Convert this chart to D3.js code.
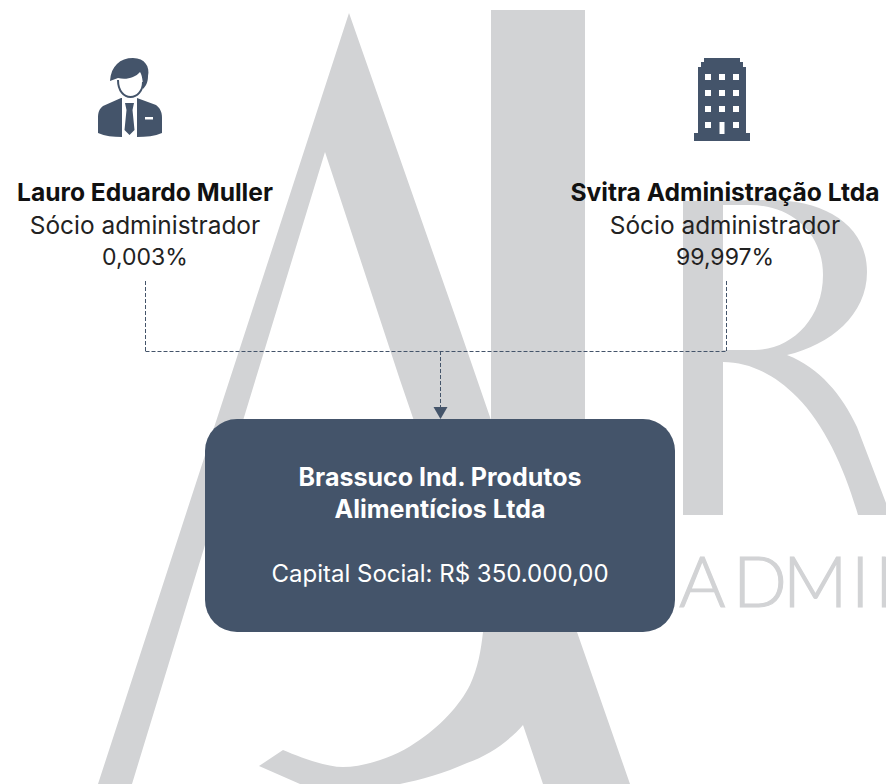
<!DOCTYPE html>
<html><head><meta charset="utf-8">
<style>html,body{margin:0;padding:0;background:#fff}svg{display:block}</style>
<script src="https://cdnjs.cloudflare.com/ajax/libs/d3/7.8.5/d3.min.js"></script>
</head><body><div id="c"></div>
<script>
const names = ["Lauro Eduardo Muller", "Svitra Administração Ltda"];
const roles = ["Sócio administrador", "Sócio administrador"];
const shares = ["0,003%", "99,997%"];
const companyLines = ["Brassuco Ind. Produtos", "Alimentícios Ltda"];
const capitalLine = "Capital Social: R$ 350.000,00";
const watermarkWord = "ADMIN";

const NAVY = "#44546a", GREY = "#d2d3d5", FONT = "Inter, 'Open Sans', sans-serif";
const svg = d3.select("#c").append("svg").attr("width", 886).attr("height", 784);

// watermark
const wm = svg.append("g").attr("fill", GREY);
wm.append("path").attr("fill-rule","evenodd").attr("d",
 "M349,13 L460,330 L491,420 L577,632 L630,784 L543,784 L523,725 " +
 "C510,740 490,755 467,763 C445,773 420,780 400,784 L300,784 L259,766 L283,750 " +
 "C300,757 325,767 343,767 C365,767 395,757 415,743 C440,727 460,705 470,685 C478,668 481,650 483,632 " +
 "L470,570 L413,418 L400,380 L325,152 L132,784 L98,784 Z");
wm.append("rect").attr("x",491).attr("y",10).attr("width",94).attr("height",505);
wm.append("path").attr("fill-rule","evenodd").attr("d",
 "M683,515 L683,201 L770,200 C825,200 867,225 867,272 C867,315 830,345 787,355 " +
 "C820,368 842,395 857,427 L886,503 L886,515 L858,515 C845,470 825,425 797,397 C775,375 750,362 723,362 L723,515 Z " +
 "M723,205 L723,350 L755,350 C790,350 823,320 823,275 C823,232 790,205 750,205 Z");
wm.append("text").attr("y",607).attr("font-family","Lato, sans-serif").attr("font-weight",300)
  .attr("font-size",71).attr("stroke",GREY).attr("stroke-width",1.2)
  .attr("x","679 733 783 851 875").text(watermarkWord);

// connectors
const line = d3.line();
const conn = svg.append("g").attr("fill","none").attr("stroke",NAVY).attr("stroke-width",1).attr("stroke-dasharray","4 2");
[[[145.5,281],[145.5,351.5]],[[726.5,281],[726.5,351.5]],[[145.5,351.5],[726.5,351.5]],[[440.5,351],[440.5,408]]].forEach(p=>conn.append("path").attr("d",line(p)));
svg.append("path").attr("fill",NAVY).attr("d","M433.5,407 L447.5,407 L440.5,419 Z");

// box
svg.append("rect").attr("x",205).attr("y",419).attr("width",470).attr("height",213).attr("rx",32).attr("fill",NAVY);
svg.append("g").selectAll("text").data(companyLines).join("text")
  .attr("x",440).attr("y",(d,i)=>486+i*32).attr("text-anchor","middle").attr("fill","#fff")
  .attr("font-family",FONT).attr("font-weight",700).attr("font-size",25).text(d=>d);
svg.append("text").attr("x",440).attr("y",582).attr("text-anchor","middle").attr("fill","#fff")
  .attr("font-family",FONT).attr("font-size",24).text(capitalLine);

// partner labels
const cx = [145, 725];
const g = svg.append("g").attr("font-family",FONT).attr("text-anchor","middle").attr("fill","#111");
g.selectAll("text.n").data(names).join("text").attr("class","n").attr("x",(d,i)=>cx[i]).attr("y",201)
  .attr("font-weight",700).attr("font-size",24.6).text(d=>d);
g.selectAll("text.r").data(roles).join("text").attr("class","r").attr("x",(d,i)=>cx[i]).attr("y",234)
  .attr("font-size",24.4).attr("fill","#222").text(d=>d);
g.selectAll("text.s").data(shares).join("text").attr("class","s").attr("x",(d,i)=>cx[i]).attr("y",265)
  .attr("font-size",23).attr("fill","#222").text(d=>d);

// person icon
const p = svg.append("g");
p.append("path").attr("fill",NAVY).attr("d",
 "M121,98 L103,106 C99,109 98,113 98,118 L98,133 C105,136 113,137 122,137 L122,98 Z M137,98 L156,105 C160,108 162,112 162,118 L162,133 C155,136 146,137 137,137 Z");
p.append("path").attr("fill",NAVY).attr("d",
 "M110,81 C111,66 120,58 133,58 C145,58 150,67 148,76 C148,82 146,86 143,89 C143,81 142,75 140,72 C135,78 126,80 118,78 Z");
p.append("path").attr("fill","none").attr("stroke",NAVY).attr("stroke-width",2).attr("d",
 "M118,80 C118,91 124,97 130.5,97 C137,97 143,91 143,82");
p.append("path").attr("fill",NAVY).attr("d","M125,103 L134,103 L132.5,110 L134.5,130 L129.5,135 L124.5,130 L126.5,110 Z");
p.append("rect").attr("x",145).attr("y",117).attr("width",8).attr("height",2.5).attr("fill","#fff");

// building icon
const b = svg.append("g");
b.append("path").attr("fill",NAVY).attr("d",
 "M704,58 L740,58 L740,62 L743,62 L743,67 L746,67 L746,133 L750,133 L750,141 L694,141 L694,133 L698,133 L698,67 L701,67 L701,62 L704,62 Z");
const wx=[708,722,736], wy=[77,93,109,125];
wy.forEach((y,r)=>wx.forEach((x,c)=>{ if(r===3&&c===1) return;
  b.append("rect").attr("x",x-3).attr("y",y-3).attr("width",6).attr("height",6).attr("fill","#fff");}));
b.append("rect").attr("x",719.5).attr("y",122).attr("width",5).attr("height",12).attr("fill","#fff");
</script></body></html>
